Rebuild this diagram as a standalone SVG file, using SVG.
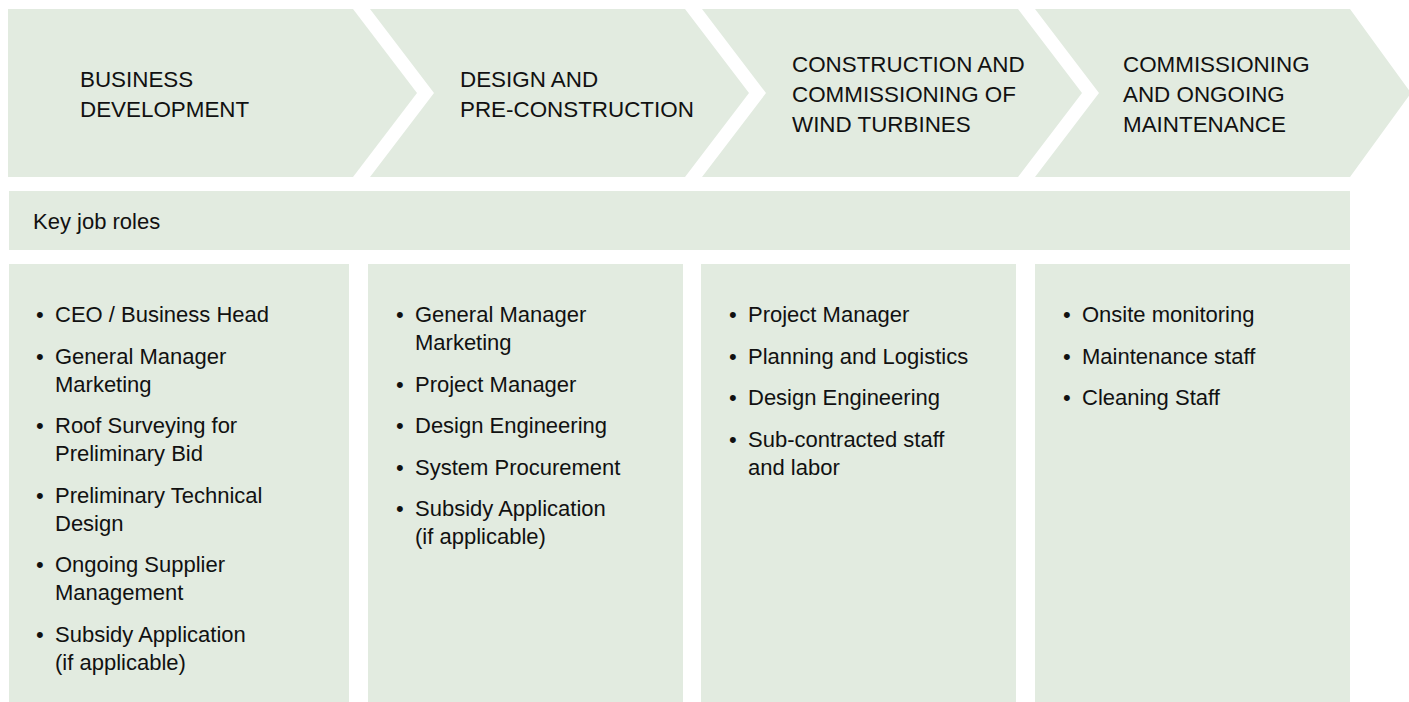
<svg xmlns="http://www.w3.org/2000/svg" width="1409" height="702" viewBox="0 0 1409 702">
<style>
.bg{fill:#e2ebe0}
.h{font-family:"Liberation Sans",Arial,sans-serif;font-size:22.4px;fill:#111}
.t{font-family:"Liberation Sans",Arial,sans-serif;font-size:22px;fill:#111}
</style>
<rect width="1409" height="702" fill="#fff"/>
<g id="stage1">
<polygon class="bg" points="8,9 353,9 417,93 353,177 8,177"/>
<text class="h" x="80"><tspan x="80" y="87">BUSINESS</tspan><tspan x="80" y="117">DEVELOPMENT</tspan></text>
</g>
<g id="stage2">
<polygon class="bg" points="370,9 685,9 749,93 685,177 370,177 434,93"/>
<text class="h"><tspan x="460" y="87">DESIGN AND</tspan><tspan x="460" y="117">PRE-CONSTRUCTION</tspan></text>
</g>
<g id="stage3">
<polygon class="bg" points="702,9 1018,9 1082,93 1018,177 702,177 766,93"/>
<text class="h"><tspan x="792" y="72">CONSTRUCTION AND</tspan><tspan x="792" y="102">COMMISSIONING OF</tspan><tspan x="792" y="132">WIND TURBINES</tspan></text>
</g>
<g id="stage4">
<polygon class="bg" points="1035,9 1350,9 1411,93 1350,177 1035,177 1099,93"/>
<text class="h"><tspan x="1123" y="72">COMMISSIONING</tspan><tspan x="1123" y="102">AND ONGOING</tspan><tspan x="1123" y="132">MAINTENANCE</tspan></text>
</g>
<g id="keyroles">
<rect class="bg" x="9" y="191" width="1341" height="59"/>
<text class="t" x="33" y="229">Key job roles</text>
</g>
<g id="col1">
<rect class="bg" x="9" y="264" width="340" height="438"/>
<text class="t">
<tspan x="36" y="322">•</tspan><tspan x="55" y="322">CEO / Business Head</tspan>
<tspan x="36" y="363.5">•</tspan><tspan x="55" y="363.5">General Manager</tspan>
<tspan x="55" y="391.5">Marketing</tspan>
<tspan x="36" y="433">•</tspan><tspan x="55" y="433">Roof Surveying for</tspan>
<tspan x="55" y="461">Preliminary Bid</tspan>
<tspan x="36" y="502.5">•</tspan><tspan x="55" y="502.5">Preliminary Technical</tspan>
<tspan x="55" y="530.5">Design</tspan>
<tspan x="36" y="572">•</tspan><tspan x="55" y="572">Ongoing Supplier</tspan>
<tspan x="55" y="600">Management</tspan>
<tspan x="36" y="641.5">•</tspan><tspan x="55" y="641.5">Subsidy Application</tspan>
<tspan x="55" y="669.5">(if applicable)</tspan>
</text>
</g>
<g id="col2">
<rect class="bg" x="368" y="264" width="315" height="438"/>
<text class="t">
<tspan x="396" y="322">•</tspan><tspan x="415" y="322">General Manager</tspan>
<tspan x="415" y="350">Marketing</tspan>
<tspan x="396" y="391.5">•</tspan><tspan x="415" y="391.5">Project Manager</tspan>
<tspan x="396" y="433">•</tspan><tspan x="415" y="433">Design Engineering</tspan>
<tspan x="396" y="474.5">•</tspan><tspan x="415" y="474.5">System Procurement</tspan>
<tspan x="396" y="516">•</tspan><tspan x="415" y="516">Subsidy Application</tspan>
<tspan x="415" y="544">(if applicable)</tspan>
</text>
</g>
<g id="col3">
<rect class="bg" x="701" y="264" width="315" height="438"/>
<text class="t">
<tspan x="729" y="322">•</tspan><tspan x="748" y="322">Project Manager</tspan>
<tspan x="729" y="363.5">•</tspan><tspan x="748" y="363.5">Planning and Logistics</tspan>
<tspan x="729" y="405">•</tspan><tspan x="748" y="405">Design Engineering</tspan>
<tspan x="729" y="446.5">•</tspan><tspan x="748" y="446.5">Sub-contracted staff</tspan>
<tspan x="748" y="474.5">and labor</tspan>
</text>
</g>
<g id="col4">
<rect class="bg" x="1035" y="264" width="315" height="438"/>
<text class="t">
<tspan x="1063" y="322">•</tspan><tspan x="1082" y="322">Onsite monitoring</tspan>
<tspan x="1063" y="363.5">•</tspan><tspan x="1082" y="363.5">Maintenance staff</tspan>
<tspan x="1063" y="405">•</tspan><tspan x="1082" y="405">Cleaning Staff</tspan>
</text>
</g>
<g id="connectors"/>
</svg>
